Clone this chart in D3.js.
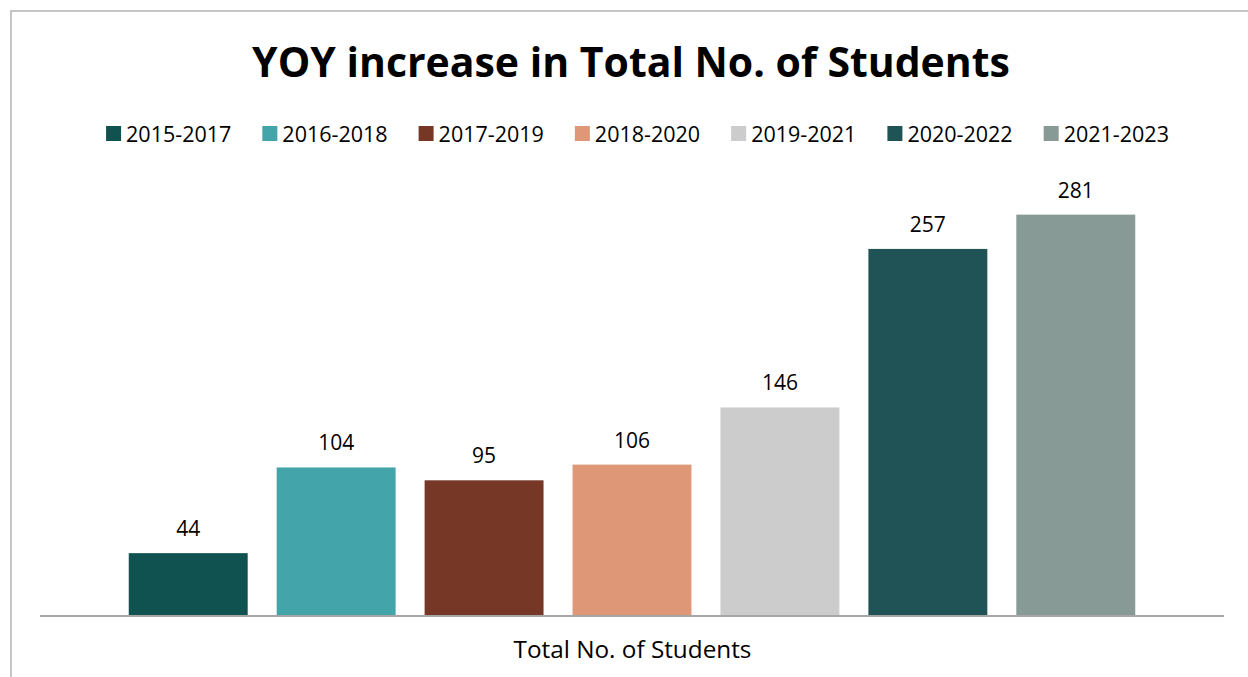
<!DOCTYPE html>
<html>
<head>
<meta charset="utf-8">
<script src="https://cdn.jsdelivr.net/npm/d3@7/dist/d3.min.js"></script>
<style>
  html, body { margin: 0; padding: 0; background: #ffffff; }
  svg { display: block; }
  text { font-family: "Open Sans", "Noto Sans", sans-serif; fill: #000; }
</style>
</head>
<body>
<svg id="chart" width="1248" height="677"></svg>
<script>
// Chart data
const title = "YOY increase in Total No. of Students";
const category = "Total No. of Students";
const periods = ["2015-2017", "2016-2018", "2017-2019", "2018-2020", "2019-2021", "2020-2022", "2021-2023"];
const students = [44, 104, 95, 106, 146, 257, 281];
const colors = ["#10524f", "#43a4a9", "#773727", "#de9878", "#cccccc", "#1f5356", "#879a96"];

const svg = d3.select("#chart");
const W = 1248, H = 677;

// Outer frame of the chart area
svg.append("rect")
  .attr("x", 11).attr("y", 11)
  .attr("width", W).attr("height", H)
  .attr("fill", "#ffffff")
  .attr("stroke", "#b3b3b3")
  .attr("stroke-width", 1.5);

// Title, sized to its layout width
const titleText = svg.append("text")
  .attr("x", 631).attr("y", 77)
  .attr("text-anchor", "middle")
  .attr("font-weight", 700)
  .attr("font-size", 42)
  .text(title);
const tw = titleText.node().getComputedTextLength();
titleText.attr("font-size", 42 * 758 / tw);

// Scales
const plotLeft = 40, plotRight = 1224, baseY = 616;
const x = d3.scaleBand()
  .domain(periods)
  .range([plotLeft, plotRight])
  .paddingInner(0.196)
  .paddingOuter(0.6);
const y = d3.scaleLinear()
  .domain([0, 300])
  .range([baseY, 187.5]);
const color = d3.scaleOrdinal().domain(periods).range(colors);

const data = periods.map((p, i) => ({ period: p, value: students[i] }));

// Bars
svg.append("g").selectAll("rect")
  .data(data)
  .join("rect")
  .attr("x", d => x(d.period))
  .attr("y", d => y(d.value))
  .attr("width", x.bandwidth())
  .attr("height", d => baseY - y(d.value))
  .attr("fill", d => color(d.period));

// Value labels
svg.append("g").selectAll("text")
  .data(data)
  .join("text")
  .attr("x", d => x(d.period) + x.bandwidth() / 2)
  .attr("y", d => y(d.value) - 17)
  .attr("text-anchor", "middle")
  .attr("font-size", 21)
  .attr("fill", "#1a1a1a")
  .text(d => d.value);

// Category axis
const xAxis = d3.scalePoint().domain([category]).range([plotLeft, plotRight]).padding(0.5);
const axisG = svg.append("g")
  .attr("transform", `translate(0,${baseY})`)
  .call(d3.axisBottom(xAxis).tickSize(0).tickPadding(0));
axisG.select(".domain")
  .attr("d", `M${plotLeft},0H${plotRight}`)
  .attr("stroke", "#a6a6a6")
  .attr("stroke-width", 2);
axisG.selectAll(".tick text")
  .attr("y", 42)
  .attr("dy", 0)
  .attr("font-size", 24.3)
  .attr("font-family", "\"Open Sans\", \"Noto Sans\", sans-serif")
  .attr("fill", "#1a1a1a");

// Legend, laid out left to right and centred
const legend = svg.append("g");
const items = legend.selectAll("g")
  .data(periods)
  .join("g");
items.append("rect")
  .attr("width", 15).attr("height", 15)
  .attr("y", -16)
  .attr("fill", d => color(d));
items.append("text")
  .attr("x", 20)
  .attr("font-size", 21.5)
  .attr("fill", "#1a1a1a")
  .text(d => d);
let cx = 0;
const gap = 31;
items.each(function () {
  const g = d3.select(this);
  g.attr("transform", `translate(${cx},0)`);
  cx += 20 + g.select("text").node().getComputedTextLength() + gap;
});
const legendW = cx - gap;
legend.attr("transform", `translate(${637.5 - legendW / 2},142)`);
</script>
</body>
</html>
